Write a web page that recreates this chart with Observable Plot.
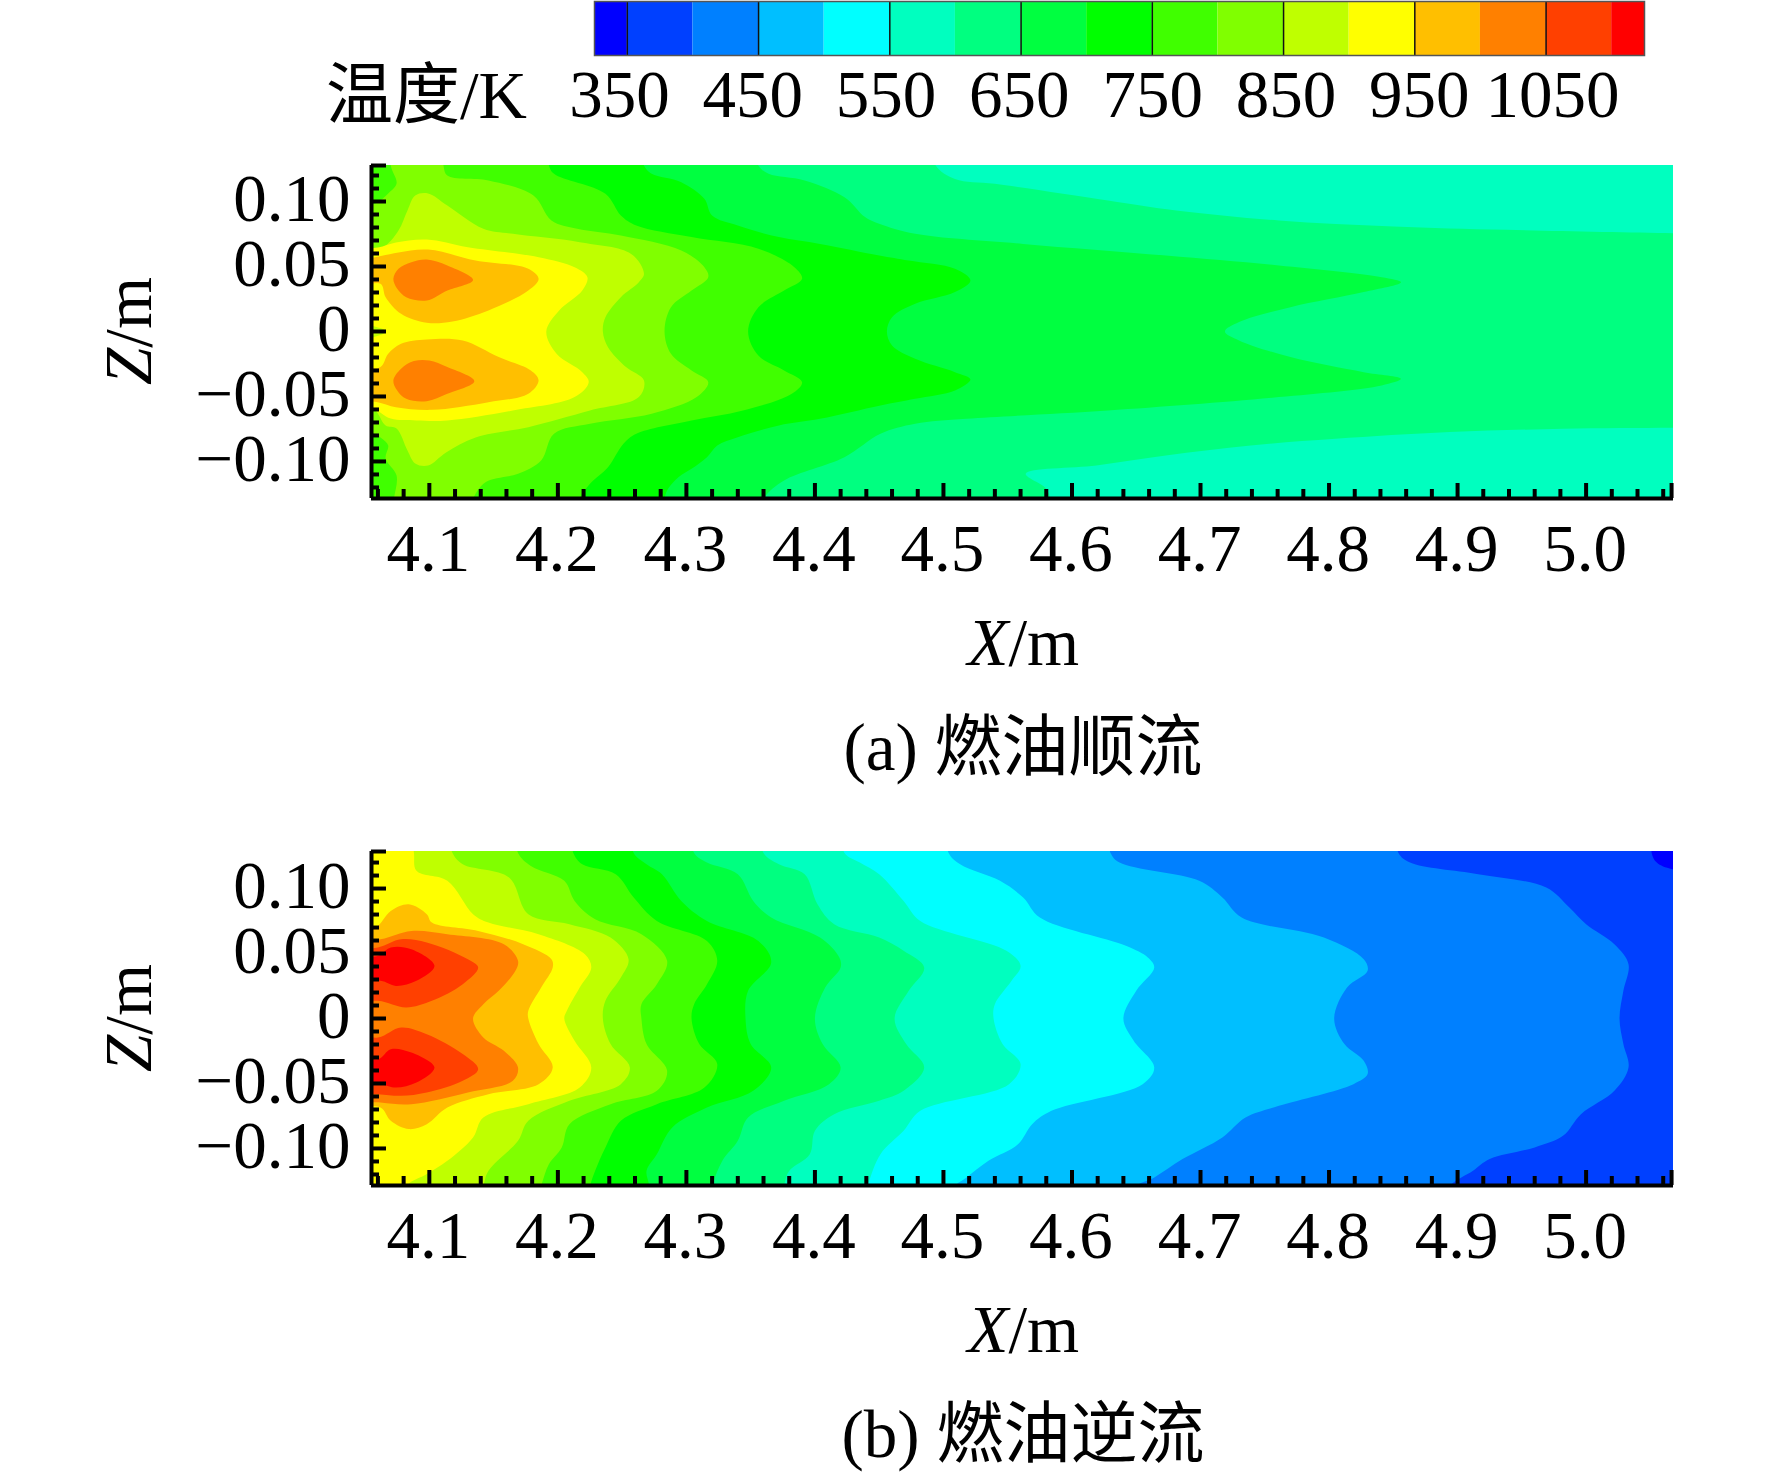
<!DOCTYPE html>
<html><head><meta charset="utf-8">
<script src="https://cdn.jsdelivr.net/npm/d3@7"></script>
<script src="https://cdn.jsdelivr.net/npm/@observablehq/plot@0.6"></script>
<style>
html,body{margin:0;padding:0;background:#fff}
#page{position:relative;width:1772px;height:1477px;overflow:hidden;font-family:"Liberation Serif","Noto Sans CJK SC",serif;color:#000}
#page>svg,#page>div{position:absolute;left:0}
.cap{width:1772px;left:0;font-size:67px;line-height:67px;text-align:center;padding-left:274px;box-sizing:border-box}
</style></head><body><div id="page"></div>
<script>
// colour scale of the legend
const thresholds=[350,400,450,500,550,600,650,700,750,800,850,900,950,1000,1050,1100];
const bandColors=["#0000ff","#0040ff","#0080ff","#00bfff","#00ffff","#00ffbf","#00ff80","#00ff40","#00ff00","#40ff00","#80ff00","#bfff00","#ffff00","#ffbf00","#ff8000","#ff4000","#ff0000"];
const bandLow=[325,350,400,450,500,550,600,650,700,750,800,850,900,950,1000,1050,1100];
const bandHigh=[350,400,450,500,550,600,650,700,750,800,850,900,950,1000,1050,1100,1125];
const legendTicks=[350,450,550,650,750,850,950,1050];
// axes
const xMajor=[4.1,4.2,4.3,4.4,4.5,4.6,4.7,4.8,4.9,5.0];
const xMinor=[4.06,4.08,4.12,4.14,4.16,4.18,4.22,4.24,4.26,4.28,4.32,4.34,4.36,4.38,4.42,4.44,4.46,4.48,4.52,4.54,4.56,4.58,4.62,4.64,4.66,4.68,4.72,4.74,4.76,4.78,4.82,4.84,4.86,4.88,4.92,4.94,4.96,4.98,5.02,5.04,5.06];
const zMajor=[0.10,0.05,0,-0.05,-0.10];
const zMinor=[0.12,0.11,0.09,0.08,0.07,0.06,0.04,0.03,0.02,0.01,-0.01,-0.02,-0.03,-0.04,-0.06,-0.07,-0.08,-0.09,-0.11,-0.12];

// Panel (a): isotherms, [X, Z]; each outlines the region hotter than the named temperature
const a600=[[3.95,.15],[4.49,.15],[4.494,.1277],[4.509,.1174],[4.54,.1136],[4.628,.1008],[4.681,.0931],[4.761,.0854],[4.85,.0808],[4.938,.0782],[5.069,.0756],[5.12,.075],[5.12,-.074],[5.069,-.0741],[4.982,-.0749],[4.894,-.0774],[4.805,-.0826],[4.739,-.0877],[4.673,-.0954],[4.619,-.1031],[4.564,-.1095],[4.58,-.121],[4.583,-.1285],[4.583,-.145],[3.95,-.145]];
const a650=[[3.95,.15],[4.35,.15],[4.356,.1277],[4.364,.1213],[4.392,.1162],[4.423,.1033],[4.439,.088],[4.45,.0828],[4.478,.0751],[4.562,.0674],[4.673,.0585],[4.761,.0508],[4.841,.0418],[4.856,.0379],[4.827,.0303],[4.77,.0187],[4.73,.0072],[4.719,0],[4.73,-.0069],[4.77,-.0197],[4.827,-.0313],[4.856,-.0364],[4.841,-.0415],[4.761,-.0505],[4.628,-.0608],[4.518,-.0672],[4.478,-.071],[4.451,-.0787],[4.423,-.0967],[4.376,-.1146],[4.36,-.1287],[4.355,-.145],[3.95,-.145]];
const a700=[[3.95,.15],[4.26,.15],[4.267,.1277],[4.273,.1213],[4.296,.1149],[4.314,.1021],[4.32,.0892],[4.34,.0815],[4.372,.0726],[4.404,.0674],[4.45,.0585],[4.473,.0546],[4.509,.0482],[4.521,.0392],[4.509,.0303],[4.478,.0213],[4.46,.011],[4.456,0],[4.46,-.0108],[4.478,-.021],[4.509,-.0313],[4.521,-.0369],[4.509,-.0454],[4.478,-.0518],[4.451,-.0569],[4.404,-.0672],[4.372,-.0723],[4.34,-.0813],[4.324,-.0877],[4.316,-.0967],[4.304,-.1056],[4.294,-.112],[4.285,-.1223],[4.283,-.1287],[4.28,-.145],[3.95,-.145]];
const a750=[[3.95,.15],[4.19,.15],[4.193,.1277],[4.197,.1213],[4.237,.1059],[4.249,.0892],[4.261,.0815],[4.304,.0726],[4.356,.0636],[4.384,.0495],[4.39,.0405],[4.376,.0315],[4.356,.0187],[4.348,0],[4.356,-.0185],[4.376,-.03],[4.39,-.039],[4.382,-.0479],[4.344,-.0608],[4.304,-.0685],[4.261,-.0787],[4.251,-.0864],[4.239,-.1044],[4.225,-.1172],[4.217,-.1287],[4.215,-.145],[3.95,-.145]];
const a800=[[4.07,.145],[4.11,.145],[4.111,.1277],[4.114,.12],[4.146,.1162],[4.181,.1046],[4.195,.0854],[4.215,.079],[4.249,.0738],[4.296,.0623],[4.314,.0495],[4.317,.0418],[4.304,.0315],[4.288,.0187],[4.283,0],[4.288,-.0172],[4.304,-.03],[4.317,-.039],[4.308,-.0505],[4.273,-.0633],[4.225,-.071],[4.197,-.0787],[4.187,-.0992],[4.169,-.1095],[4.144,-.1159],[4.134,-.1287],[4.13,-.145],[4.07,-.145],[4.0725,-.1285],[4.0745,-.1108],[4.066,-.0977],[4.068,-.0877],[4.063,-.0823],[4.055,-.0777],[4.04,-.075],[4.04,.095],[4.058,.0985],[4.068,.1062],[4.0745,.1138],[4.07,.1277]];
const a850=[[4.04,.06],[4.0636,.0646],[4.076,.0777],[4.083,.0931],[4.089,.1046],[4.099,.1062],[4.114,.0969],[4.142,.079],[4.165,.0751],[4.217,.0687],[4.257,.0597],[4.267,.0444],[4.263,.0379],[4.249,.0264],[4.237,.011],[4.235,0],[4.239,-.0121],[4.253,-.0274],[4.267,-.0377],[4.263,-.0505],[4.225,-.0608],[4.177,-.0736],[4.136,-.0815],[4.113,-.0931],[4.099,-.1031],[4.089,-.1015],[4.083,-.0915],[4.0745,-.0746],[4.066,-.0723],[4.057,-.06],[4.04,-.058]];
const a900=[[4.04,.062],[4.06,.0646],[4.074,.0685],[4.098,.0708],[4.13,.0649],[4.185,.0572],[4.213,.0495],[4.223,.0418],[4.219,.0315],[4.201,.0162],[4.191,0],[4.199,-.0172],[4.219,-.0313],[4.224,-.039],[4.213,-.0505],[4.165,-.0608],[4.114,-.0685],[4.09,-.0685],[4.07,-.067],[4.056,-.0592],[4.04,-.057],[4.04,-.012],[4.066,0],[4.04,.012]];
const a950Up=[[4.04,.055],[4.057,.057],[4.076,.0608],[4.099,.063],[4.136,.0546],[4.177,.0482],[4.185,.0405],[4.177,.0315],[4.146,.0162],[4.118,.0077],[4.098,.0067],[4.078,.0136],[4.066,.0264],[4.062,.0367],[4.04,.035]];
const a950Down=[[4.078,-.0095],[4.098,-.0062],[4.126,-.0069],[4.154,-.0197],[4.179,-.03],[4.185,-.0377],[4.177,-.0479],[4.146,-.0544],[4.102,-.0603],[4.074,-.0582],[4.06,-.0544],[4.04,-.05],[4.04,-.03],[4.062,-.0274],[4.068,-.0172]];
const a1000Up=[[4.072,.0405],[4.076,.0482],[4.086,.0533],[4.098,.0554],[4.114,.0508],[4.134,.0397],[4.114,.0315],[4.098,.0238],[4.082,.0264],[4.075,.0328]];
const a1000Down=[[4.072,-.0377],[4.078,-.0287],[4.088,-.0228],[4.1,-.0223],[4.114,-.0274],[4.135,-.0382],[4.114,-.0479],[4.098,-.0536],[4.082,-.0518],[4.075,-.0454]];

// Panel (b)
const b350=[[3.95,.15],[5.051,.15],[5.051,.1274],[5.055,.12],[5.067,.1149],[5.12,.113],[5.12,-.15],[3.95,-.15]];
const b400=[[3.95,.15],[4.85,.15],[4.854,.1274],[4.863,.12],[4.916,.111],[4.969,.1008],[4.987,.0854],[5,.0726],[5.022,.0572],[5.033,.0418],[5.029,.0213],[5.026,0],[5.029,-.0197],[5.033,-.0377],[5.022,-.0556],[4.996,-.0736],[4.982,-.0903],[4.96,-.0992],[4.925,-.1082],[4.912,-.1172],[4.894,-.1287],[4.88,-.15],[3.95,-.15]];
const b450=[[3.95,.15],[4.625,.15],[4.63,.1274],[4.637,.12],[4.699,.1059],[4.717,.0931],[4.732,.0777],[4.796,.0623],[4.827,.0456],[4.83,.0367],[4.814,.0238],[4.804,0],[4.812,-.0197],[4.827,-.0326],[4.83,-.0428],[4.819,-.0505],[4.761,-.0672],[4.735,-.0762],[4.717,-.0915],[4.686,-.1082],[4.664,-.1223],[4.65,-.1287],[4.63,-.15],[3.95,-.15]];
const b500=[[3.95,.15],[4.5,.15],[4.504,.1274],[4.513,.1187],[4.544,.1059],[4.562,.0931],[4.575,.0777],[4.642,.0559],[4.659,.0469],[4.664,.0392],[4.65,.0213],[4.64,0],[4.648,-.0172],[4.664,-.0377],[4.655,-.0505],[4.584,-.071],[4.569,-.0813],[4.558,-.0967],[4.535,-.1095],[4.518,-.1223],[4.509,-.1287],[4.495,-.15],[3.95,-.15]];
const b550=[[3.95,.15],[4.418,.15],[4.423,.1274],[4.435,.12],[4.45,.111],[4.469,.0905],[4.482,.0751],[4.549,.0521],[4.56,.0405],[4.553,.029],[4.54,.011],[4.539,0],[4.546,-.0197],[4.56,-.0351],[4.551,-.0505],[4.482,-.071],[4.469,-.0864],[4.451,-.1044],[4.441,-.1287],[4.435,-.15],[3.95,-.15]];
const b600=[[3.95,.15],[4.355,.15],[4.36,.1274],[4.372,.1187],[4.392,.111],[4.402,.0879],[4.415,.0726],[4.45,.0623],[4.469,.0521],[4.485,.0392],[4.473,.0213],[4.462,0],[4.471,-.0197],[4.485,-.0377],[4.469,-.0556],[4.45,-.0633],[4.415,-.0736],[4.4,-.0864],[4.396,-.1044],[4.38,-.1172],[4.376,-.1287],[4.372,-.15],[3.95,-.15]];
const b650=[[3.95,.15],[4.3,.15],[4.306,.1274],[4.316,.12],[4.34,.111],[4.352,.0905],[4.366,.0777],[4.404,.0623],[4.419,.0469],[4.42,.0392],[4.408,.0238],[4.4,0],[4.406,-.0197],[4.42,-.0377],[4.411,-.0505],[4.376,-.0633],[4.348,-.0762],[4.34,-.0941],[4.328,-.1095],[4.32,-.1287],[4.315,-.15],[3.95,-.15]];
const b700=[[3.95,.15],[4.255,.15],[4.259,.1274],[4.269,.1187],[4.281,.111],[4.296,.0905],[4.316,.0751],[4.356,.0597],[4.366,.0431],[4.348,.0213],[4.346,0],[4.35,-.0197],[4.366,-.0377],[4.352,-.0556],[4.316,-.0685],[4.289,-.0838],[4.277,-.1044],[4.269,-.1172],[4.271,-.1287],[4.27,-.15],[3.95,-.15]];
const b750=[[3.95,.15],[4.208,.15],[4.212,.1274],[4.219,.1187],[4.245,.111],[4.259,.0931],[4.277,.0751],[4.316,.0597],[4.324,.0444],[4.316,.0264],[4.306,.011],[4.304,0],[4.31,-.0197],[4.324,-.0351],[4.314,-.0531],[4.277,-.0659],[4.249,-.0787],[4.237,-.0992],[4.229,-.1172],[4.225,-.1287],[4.22,-.15],[3.95,-.15]];
const b800=[[3.95,.15],[4.165,.15],[4.169,.1274],[4.179,.1174],[4.205,.1059],[4.213,.0905],[4.229,.0764],[4.265,.0649],[4.285,.0444],[4.277,.0264],[4.265,.011],[4.265,0],[4.269,-.0197],[4.285,-.0403],[4.277,-.0556],[4.241,-.0659],[4.209,-.0813],[4.203,-.0992],[4.193,-.1121],[4.187,-.1287],[4.18,-.15],[3.95,-.15]];
const b850=[[3.95,.15],[4.112,.15],[4.118,.1274],[4.126,.1187],[4.162,.1085],[4.177,.0803],[4.209,.0726],[4.241,.0623],[4.255,.0456],[4.249,.0315],[4.237,.0136],[4.235,0],[4.241,-.0197],[4.256,-.0377],[4.249,-.0505],[4.209,-.0633],[4.177,-.0787],[4.169,-.0941],[4.146,-.1172],[4.142,-.1287],[4.135,-.15],[3.95,-.15]];
const b900=[[3.95,.15],[4.085,.15],[4.088,.1274],[4.09,.1136],[4.114,.1059],[4.134,.0803],[4.146,.0738],[4.185,.0649],[4.221,.0495],[4.226,.0392],[4.217,.0238],[4.207,.0059],[4.205,0],[4.213,-.0172],[4.226,-.0377],[4.217,-.0531],[4.177,-.0659],[4.142,-.0762],[4.134,-.0915],[4.114,-.1095],[4.098,-.1197],[4.082,-.1287],[4.07,-.15],[3.95,-.15]];
const b950=[[4.03,.065],[4.058,.07],[4.07,.0828],[4.084,.0879],[4.098,.0803],[4.102,.0738],[4.138,.0674],[4.173,.0572],[4.195,.0456],[4.196,.0392],[4.187,.0238],[4.177,.0059],[4.177,0],[4.185,-.0197],[4.196,-.0377],[4.185,-.0505],[4.146,-.0582],[4.114,-.0685],[4.098,-.0813],[4.084,-.0851],[4.07,-.0787],[4.062,-.0685],[4.03,-.065]];
const b1000=[[4.03,.058],[4.062,.061],[4.086,.0674],[4.114,.0649],[4.158,.0572],[4.169,.0444],[4.167,.0367],[4.154,.0213],[4.142,.011],[4.134,0],[4.142,-.0146],[4.158,-.0249],[4.169,-.0377],[4.165,-.0479],[4.13,-.0569],[4.086,-.0659],[4.062,-.0646],[4.03,-.06]];
const b1050Up=[[4.03,.05],[4.06,.0546],[4.078,.061],[4.098,.0585],[4.13,.0456],[4.138,.0392],[4.126,.0264],[4.102,.0136],[4.082,.0085],[4.06,.0136],[4.03,.012]];
const b1050Down=[[4.03,-.012],[4.06,-.0146],[4.078,-.0069],[4.098,-.0121],[4.126,-.0274],[4.138,-.039],[4.126,-.0479],[4.098,-.0569],[4.078,-.0595],[4.06,-.0582],[4.03,-.056]];
const b1100Up=[[4.03,.045],[4.06,.0482],[4.07,.0546],[4.086,.0533],[4.104,.0405],[4.09,.029],[4.074,.0251],[4.062,.029],[4.03,.027]];
const b1100Down=[[4.03,-.027],[4.06,-.0313],[4.07,-.0236],[4.086,-.0262],[4.104,-.0377],[4.09,-.0492],[4.074,-.0531],[4.062,-.0505],[4.03,-.049]];

const layersA=[[625,a600],[675,a650],[725,a700],[775,a750],[825,a800],[875,a850],[925,a900],[975,a950Up],[975,a950Down],[1025,a1000Up],[1025,a1000Down]];
const layersB=[[375,b350],[425,b400],[475,b450],[525,b500],[575,b550],[625,b600],[675,b650],[725,b700],[775,b750],[825,b800],[875,b850],[925,b900],[975,b950],[1025,b1000],[1075,b1050Up],[1075,b1050Down],[1125,b1100Up],[1125,b1100Down]];

const FONT='"Liberation Serif","Noto Sans CJK SC",serif';
const FS=67;
const colorScale={type:"threshold",domain:thresholds,range:bandColors,legend:false};
const fmtZ=d=>d===0?"0":(d<0?"\u2212":"")+Math.abs(d).toFixed(2);
const page=document.getElementById("page");
const place=(el,top)=>{el.style.top=top+"px";page.appendChild(el);};

function panel(layers,bgT,zDomain,frameH){
  const mT=25,mB=200,mL=371,mR=99,W=1302;
  return Plot.plot({
    width:1772,height:mT+frameH+mB,marginTop:mT,marginBottom:mB,marginLeft:mL,marginRight:mR,
    style:{fontFamily:FONT,background:"transparent",overflow:"visible"},
    x:{domain:[4.055,5.068],label:null},y:{domain:zDomain,label:null},color:colorScale,
    marks:[
      Plot.rect([bgT],{x1:()=>4.055,x2:()=>5.068,y1:()=>zDomain[0],y2:()=>zDomain[1],fill:d=>d}),
      ...layers.map(([T,pts])=>Plot.line(pts,{x:d=>d[0],y:d=>d[1],fill:pts.map(()=>T),stroke:"none",curve:"catmull-rom-closed",clip:true})),
      Plot.tickX(xMinor,{x:d=>d,insetTop:frameH-9,stroke:"#000",strokeWidth:4}),
      Plot.tickX([...xMajor,5.0665],{x:d=>d,insetTop:frameH-15,stroke:"#000",strokeWidth:4}),
      Plot.tickY(zMinor,{y:d=>d,insetRight:W-8,stroke:"#000",strokeWidth:4}),
      Plot.tickY([...zMajor,zDomain[1]],{y:d=>d,insetRight:W-15,stroke:"#000",strokeWidth:4}),
      Plot.ruleX([4.055],{stroke:"#000",strokeWidth:4}),
      Plot.ruleY([zDomain[0]],{stroke:"#000",strokeWidth:4}),
      Plot.axisX({ticks:xMajor,tickSize:0,tickPadding:24,dx:-1,dy:1,fontSize:FS,tickFormat:d=>d.toFixed(1),label:null}),
      Plot.axisY({ticks:zMajor,tickSize:0,tickPadding:21,dy:-2,fontSize:FS,tickFormat:fmtZ,label:null}),
      Plot.text(["X"],{frameAnchor:"bottom",textAnchor:"end",dx:-14,dy:166,lineAnchor:"bottom",fontSize:FS,fontStyle:"italic",fill:"#000"}),
      Plot.text(["/m"],{frameAnchor:"bottom",textAnchor:"start",dx:-14,dy:166,lineAnchor:"bottom",fontSize:FS,fill:"#000"})
    ]
  });
}
function yTitle(top){
  const d=document.createElement("div");
  d.innerHTML="<i>Z</i>/m";
  d.style.cssText=`font-size:${FS}px;line-height:${FS}px;white-space:nowrap;transform:translate(-50%,-50%) rotate(-90deg);left:128px`;
  place(d,top);
}
function caption(text,top){
  const d=document.createElement("div");d.className="cap";d.textContent=text;place(d,top);
}

// legend bar
place(Plot.plot({
  width:1772,height:60,marginTop:1,marginBottom:5,marginLeft:594,marginRight:128,
  style:{background:"transparent"},
  x:{domain:[325,1125],axis:null},y:{domain:[0,1],axis:null},color:colorScale,
  marks:[
    Plot.rect(bandLow,{x1:d=>d,x2:(d,i)=>bandHigh[i],y1:()=>0,y2:()=>1,fill:(d,i)=>(d+bandHigh[i])/2}),
    Plot.ruleX(legendTicks,{x:d=>d,stroke:"#111",strokeWidth:1.5}),
    Plot.frame({stroke:"#555",strokeWidth:1.5})
  ]
}),0);
// legend labels
place(Plot.plot({
  width:1772,height:70,marginTop:0,marginBottom:0,marginLeft:619,marginRight:220,
  style:{fontFamily:FONT,background:"transparent",overflow:"visible"},
  x:{domain:[350,1050],axis:null},y:{axis:null},
  marks:[Plot.text(legendTicks,{x:d=>d,frameAnchor:"bottom",lineAnchor:"bottom",dy:-14,fontSize:FS,fill:"#000",text:d=>String(d)})]
}),60);
const unit=document.createElement("div");
unit.textContent="温度/K";
unit.style.cssText=`left:326px;font-size:${FS}px;line-height:${FS}px;white-space:nowrap`;
place(unit,62);

place(panel(layersA,575,[-0.1285,0.1277],333),140);
yTitle(331);
caption("(a) 燃油顺流",714);
place(panel(layersB,337,[-0.1285,0.1285],334),826);
yTitle(1018);
caption("(b) 燃油逆流",1401);
</script></body></html>
